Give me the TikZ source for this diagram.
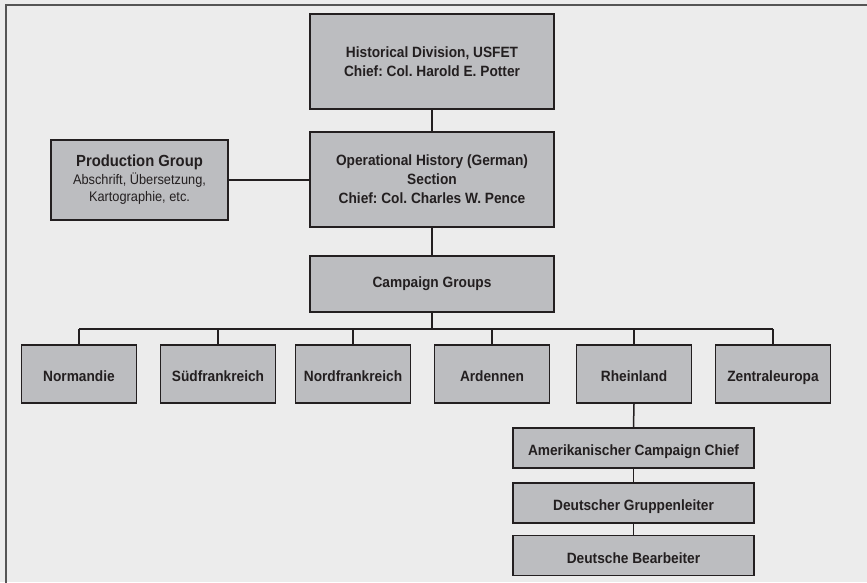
\documentclass[tikz,border=0pt]{standalone}
\usepackage{fontspec}
\setmainfont{Liberation Sans}[FakeStretch=0.92]
\definecolor{bgc}{HTML}{ECECEC}
\definecolor{boxc}{HTML}{BCBDC0}
\definecolor{linec}{HTML}{231F20}
\definecolor{framec}{HTML}{555555}
\begin{document}
\frenchspacing
\begin{tikzpicture}[x=1pt,y=-1pt,
  orgbox/.style={draw=linec, fill=boxc, line width=1.7pt, align=center, inner sep=0pt,
     font=\frenchspacing\fontsize{14.9}{19}\selectfont\bfseries, text=linec},
  bigbox/.style={orgbox, minimum width=244pt, minimum height=95pt},
  rowbox/.style={orgbox, minimum width=115pt, minimum height=58pt, text height=15pt, text depth=0pt},
  subbox/.style={orgbox, minimum width=241pt, minimum height=40pt, text height=15pt, text depth=0pt},
  conn/.style={draw=linec, line width=1.5pt},
  bus/.style={draw=linec, line width=2pt}]
\fill[bgc] (0,0) rectangle (867,582);
\useasboundingbox (0,0) rectangle (867,582);
\draw[framec, line width=1.5pt] (6,600) -- (6,5) -- (880,5);

\node[bigbox] (hist) at (432,61.5) {Historical Division, USFET\\Chief: Col. Harold E. Potter};
\node[bigbox] (oper) at (432,179.5) {Operational History (German)\\Section\\Chief: Col. Charles W. Pence};
\node[orgbox, minimum width=177pt, minimum height=80pt] (prod) at (139.5,180)
  {{\fontsize{16.1}{18}\selectfont\bfseries Production Group}\\[-1pt]
   {\fontsize{13.9}{16}\selectfont\mdseries Abschrift, Übersetzung,}\\[-2pt]
   {\fontsize{13.9}{16}\selectfont\mdseries Kartographie, etc.}};
\node[bigbox, minimum height=56pt] (camp) at (432,284) {Campaign Groups};

\node[rowbox] (norm) at (79,374) {Normandie};
\node[rowbox] (sued) at (218,374) {Südfrankreich};
\node[rowbox] (nord) at (353,374) {Nordfrankreich};
\node[rowbox] (arde) at (492,374) {Ardennen};
\node[rowbox] (rhei) at (634,374) {Rheinland};
\node[rowbox] (zent) at (773,374) {Zentraleuropa};

\node[subbox] (amer) at (633.5,448) {Amerikanischer Campaign Chief};
\node[subbox] (grup) at (633.5,503) {Deutscher Gruppenleiter};
\node[subbox] (bear) at (633.5,555.5) {Deutsche Bearbeiter};

\coordinate (busL) at (79,329);
\coordinate (busR) at (773,329);

\draw[conn] (hist.south) -- (oper.north);
\draw[conn] (prod.east) -- (oper.west |- prod.east);
\draw[conn] (oper.south) -- (camp.north);
\draw[bus] (camp.south) -- (camp.south |- busL);
\draw[bus] (busL) -- (busR);
\foreach \n in {norm,sued,nord,arde,rhei,zent}
  \draw[conn] (\n.north) -- (\n.north |- busL);
\draw[conn] (rhei.south) -- (amer.north);
\draw[conn] (amer.south) -- (grup.north);
\draw[conn] (grup.south) -- (bear.north);
\end{tikzpicture}
\end{document}
